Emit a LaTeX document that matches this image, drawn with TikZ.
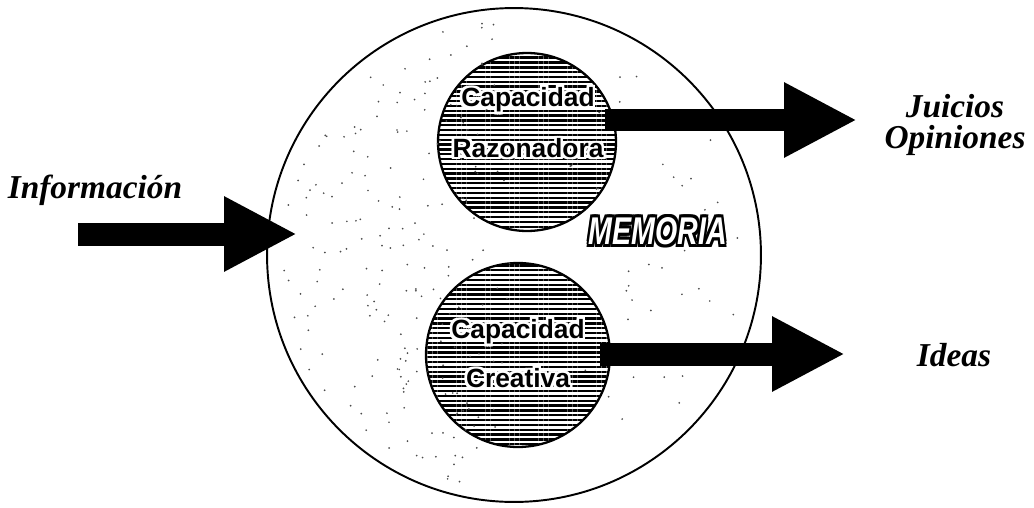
\documentclass[tikz,border=0pt]{standalone}
\usepackage{fontspec}
\setmainfont{Liberation Serif}
\setsansfont{Liberation Sans}
\usetikzlibrary{arrows.meta, patterns.meta, positioning}

% text with a rim: #1 rim colour, #2 face colour, #3 rim width, #4 text
\newcommand{\rimcopy}[4]{\rlap{\kern#1\raisebox{#2}{\textcolor{#3}{#4}}}}
\newcommand{\rimtext}[4]{\leavevmode
  \rimcopy{#3}{0pt}{#1}{#4}\rimcopy{-#3}{0pt}{#1}{#4}%
  \rimcopy{0pt}{#3}{#1}{#4}\rimcopy{0pt}{-#3}{#1}{#4}%
  \rimcopy{#3}{#3}{#1}{#4}\rimcopy{-#3}{-#3}{#1}{#4}%
  \rimcopy{#3}{-#3}{#1}{#4}\rimcopy{-#3}{#3}{#1}{#4}%
  \textcolor{#2}{#4}}

\begin{document}
\begin{tikzpicture}[x=0.02cm, y=-0.02cm]

        \tikzset{
            memo/.style={circle, draw, line width=1.1pt, minimum size=9.88cm, inner sep=0pt},
            capac/.style={circle, draw, line width=1.3pt, inner sep=0pt,
                pattern={Lines[angle=0, distance=2.75pt, line width=1.35pt]}},
            captext/.style={font=\sffamily\bfseries\fontsize{15}{15}\selectfont, inner sep=0pt},
            blockarrow/.style={line width=0.46cm, -{Triangle[length=1.46cm, width=1.4cm]}},
            outlabel/.style={font=\itshape\bfseries\fontsize{19}{17.6}\selectfont, align=center}
        }

        \useasboundingbox (0,0) rectangle (1034,507);

        % memory
        \node[memo] (memoria) at (514,255) {};
        \node[capac, minimum size=3.56cm] (razon) at (527,142) {};
        \node[capac, minimum size=3.68cm] (crea) at (518,355) {};

        % speckles of the scan
        \pgfmathsetseed{42}
        \foreach \k in {1,...,220}{
            \pgfmathsetmacro{\ang}{95+170*rnd}
            \pgfmathsetmacro{\rad}{235*sqrt(rnd)}
            \fill[shift={(memoria.center)}, black!70] (\ang:\rad) circle[radius=0.55pt];
        }
        \foreach \k in {1,...,40}{
            \pgfmathsetmacro{\ang}{-60+120*rnd}
            \pgfmathsetmacro{\rad}{100+130*rnd}
            \fill[shift={(memoria.center)}, black!70] (\ang:\rad) circle[radius=0.55pt];
        }

        \node[captext] (cap1) at (528,100) {\rimtext{white}{black}{0.09em}{Capacidad}};
        \node[captext] (raz) at (528,148) {\rimtext{white}{black}{0.09em}{Razonadora}};
        \node[captext] (cap2) at (518,332) {\rimtext{white}{black}{0.09em}{Capacidad}};
        \node[captext] (creat) at (518,378) {\rimtext{white}{black}{0.09em}{Creativa}};

        \node[font=\sffamily\bfseries\itshape\fontsize{22}{22}\selectfont, inner sep=0pt] (memlabel) at (658,231)
            {\scalebox{0.74}[1]{\rimtext{black}{white}{0.07em}{MEMORIA}}};

        % labels
        \node[outlabel] (info) at (95,190) {Información};
        \node[outlabel] (juicios) at (955,125) {Juicios\\Opiniones};
        \node[outlabel] (ideas) at (954,355) {Ideas};

        % arrows
        \coordinate (infoin) at (78,234);
        \coordinate (infotip) at (297,234);
        \coordinate (razout) at (605,120);
        \coordinate (juiciostip) at (857,120);
        \coordinate (creaout) at (600,354);
        \coordinate (ideastip) at (845,354);

        \draw[blockarrow] (infoin) -- (infotip);
        \draw[blockarrow] (razout) -- (juiciostip);
        \draw[blockarrow] (creaout) -- (ideastip);

\end{tikzpicture}
\end{document}
